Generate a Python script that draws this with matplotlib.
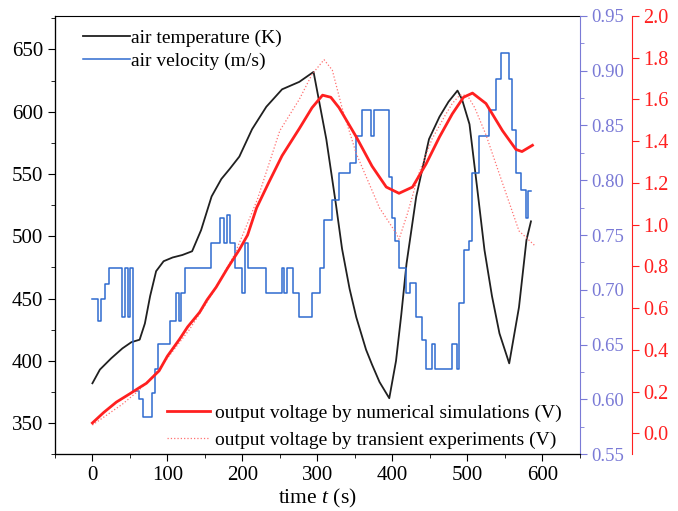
import numpy as np
import matplotlib
matplotlib.use("Agg")
import matplotlib.pyplot as plt
from matplotlib.ticker import MultipleLocator

plt.rcParams['font.family'] = ['Liberation Serif', 'DejaVu Serif']
plt.rcParams['mathtext.fontset'] = 'custom'
plt.rcParams['mathtext.rm'] = 'Liberation Serif'
plt.rcParams['mathtext.it'] = 'Liberation Serif:italic'

# air temperature (K)
temp_t = [0, 10, 25, 40, 52, 63, 70, 77, 85, 95, 107, 120, 133, 145, 159, 172,
          183, 196, 213, 232, 253, 276, 295, 312, 325, 333, 343, 352, 365, 373,
          383, 396, 405, 412, 419, 432, 449, 463, 475, 487, 493, 503, 513, 523,
          533, 543, 556, 569, 579, 585]
temp = [382, 393, 402, 410, 415, 417, 430, 452, 472, 480, 483, 485, 488, 505,
        532, 546, 554, 564, 586, 604, 618, 624, 632, 578, 525, 490, 458, 435,
        409, 397, 383, 370, 400, 437, 478, 532, 578, 596, 608, 617, 610, 590,
        540, 489, 452, 422, 398, 443, 497, 512]

# air velocity (m/s), step signal
vel_t = [0, 7, 11, 17, 22, 40, 43, 47, 50, 54, 62, 67, 79, 84, 88, 104, 112,
         116, 118, 124, 158, 170, 176, 179, 183, 190, 196, 200, 203, 207, 232,
         253, 256, 259, 267, 276, 293, 303, 309, 319, 329, 343, 352, 360, 371,
         375, 396, 400, 404, 409, 418, 423, 432, 440, 445, 453, 457, 480, 487,
         489, 496, 503, 507, 516, 529, 539, 545, 552, 556, 560, 565, 572, 578,
         581, 585]
vel = [0.692, 0.672, 0.692, 0.705, 0.720, 0.675, 0.720, 0.675, 0.720, 0.608,
       0.600, 0.584, 0.606, 0.628, 0.651, 0.672, 0.697, 0.672, 0.697, 0.720,
       0.743, 0.766, 0.743, 0.768, 0.743, 0.720, 0.720, 0.697, 0.743, 0.720,
       0.697, 0.720, 0.697, 0.720, 0.697, 0.675, 0.697, 0.720, 0.764, 0.782,
       0.807, 0.816, 0.840, 0.864, 0.840, 0.864, 0.803, 0.766, 0.745, 0.720,
       0.697, 0.706, 0.675, 0.654, 0.628, 0.651, 0.628, 0.651, 0.628, 0.688,
       0.736, 0.745, 0.807, 0.840, 0.864, 0.892, 0.916, 0.916, 0.892, 0.846,
       0.807, 0.791, 0.766, 0.790, 0.790]

# output voltage by numerical simulations (V)
sim_t = [0, 15, 32, 50, 63, 72, 89, 100, 116, 127, 143, 153, 165, 180, 196, 207,
         219, 235, 253, 276, 293, 307, 318, 329, 352, 373, 392, 409, 427, 445,
         463, 480, 495, 507, 525, 547, 565, 573, 587]
sim_v = [0.05, 0.10, 0.15, 0.19, 0.22, 0.24, 0.30, 0.37, 0.45, 0.51, 0.58, 0.64,
         0.70, 0.79, 0.88, 0.95, 1.08, 1.20, 1.33, 1.46, 1.56, 1.62, 1.61, 1.56,
         1.42, 1.28, 1.18, 1.15, 1.18, 1.29, 1.42, 1.53, 1.61, 1.63, 1.58, 1.45,
         1.36, 1.35, 1.38]

# output voltage by transient experiments (V)
exp_t = [0, 20, 40, 60, 80, 100, 130, 160, 190, 220, 250, 276, 293, 309, 320,
         333, 352, 383, 405, 409, 420, 436, 453, 470, 480, 490, 500, 510, 525,
         545, 569, 590]
exp_v = [0.04, 0.09, 0.14, 0.20, 0.27, 0.36, 0.50, 0.67, 0.86, 1.12, 1.45,
         1.60, 1.72, 1.79, 1.74, 1.56, 1.34, 1.08, 0.96, 0.93, 1.05, 1.25, 1.41,
         1.52, 1.58, 1.62, 1.62, 1.56, 1.43, 1.22, 0.97, 0.90]

blue = '#2f6bd0'
blue_ax = '#7a7ad6'
red = '#ff2020'

fig = plt.figure(figsize=(6.78, 5.11), dpi=100)
ax = fig.add_axes([0.081, 0.111, 0.774, 0.858])
ax_v = ax.twinx()
ax_r = ax.twinx()

l_temp, = ax.plot(temp_t, temp, color='#202020', lw=1.3)
l_vel, = ax_v.plot(vel_t, vel, color=blue, lw=1.1, drawstyle='steps-post')
l_exp, = ax_r.plot(exp_t, exp_v, color='#ff7070', lw=0.9, ls=':')
l_sim, = ax_r.plot(sim_t, sim_v, color=red, lw=2.0)

ax.set_xlim(-50, 650)
ax.set_ylim(325, 677)
ax_v.set_ylim(0.55, 0.95)
ax_r.set_ylim(-0.1, 2.0)

ax.xaxis.set_major_locator(MultipleLocator(100))
ax.xaxis.set_minor_locator(MultipleLocator(50))
ax.yaxis.set_major_locator(MultipleLocator(50))
ax.yaxis.set_minor_locator(MultipleLocator(25))
ax_v.yaxis.set_major_locator(MultipleLocator(0.05))
ax_v.yaxis.set_minor_locator(MultipleLocator(0.025))
ax_r.yaxis.set_major_locator(MultipleLocator(0.2))
ax_v.yaxis.set_major_formatter(plt.FormatStrFormatter('%.2f'))
ax_r.yaxis.set_major_formatter(plt.FormatStrFormatter('%.1f'))

ax.tick_params(axis='both', which='major', direction='out', length=5,
               labelsize=15, right=False, top=False)
ax.tick_params(axis='both', which='minor', direction='out', length=3,
               right=False, top=False)
ax.spines['right'].set_visible(False)

ax_v.spines['right'].set_color(blue_ax)
ax_v.spines['top'].set_visible(False)
ax_v.tick_params(axis='y', which='both', direction='out', colors=blue_ax,
                 labelsize=13.5)
ax_v.tick_params(axis='y', which='major', length=5)
ax_v.tick_params(axis='y', which='minor', length=3)

ax_r.spines['right'].set_position(('outward', 37.5))
ax_r.spines['right'].set_color(red)
ax_r.spines['top'].set_visible(False)
ax_r.tick_params(axis='y', direction='out', colors=red, length=5,
                 labelsize=14.5)

ax.set_xlabel('time $t$ (s)', fontsize=15.5, labelpad=1)

leg1 = ax_r.legend([l_temp, l_vel], ['air temperature (K)', 'air velocity (m/s)'],
                   loc='upper left', bbox_to_anchor=(0.02, 1.01), frameon=False,
                   fontsize=14, handlelength=2.4, handletextpad=0.05,
                   labelspacing=0.3)
ax_r.add_artist(leg1)
ax_r.legend([l_sim, l_exp], ['output voltage by numerical simulations (V)',
                             'output voltage by transient experiments (V)'],
            loc='lower right', bbox_to_anchor=(1.0, -0.027), frameon=False,
            fontsize=14, handlelength=2.2, handletextpad=0.3,
            labelspacing=0.45)

fig.savefig('out.png', dpi=100)
